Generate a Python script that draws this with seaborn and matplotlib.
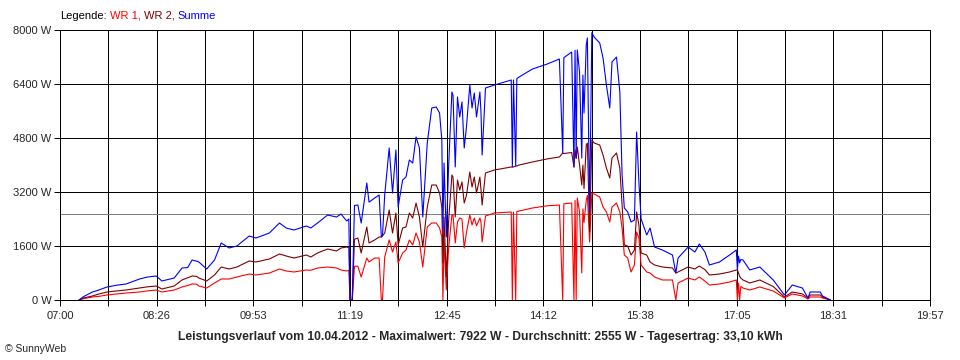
import numpy as np
import pandas as pd
import matplotlib
matplotlib.use("Agg")
import matplotlib.pyplot as plt
import seaborn as sns

# Leistungsverlauf 10.04.2012 (Watt)
zeit = [
    "07:17", "07:21", "07:29", "07:35", "07:42", "07:51", "07:59", "08:11", "08:18", "08:26",
    "08:31", "08:42", "08:49", "08:54", "08:58", "09:02", "09:04", "09:11", "09:18", "09:24",
    "09:31", "09:38", "09:49", "09:55", "10:07", "10:16", "10:22", "10:29", "10:40", "10:44",
    "10:50", "10:59", "11:07", "11:11", "11:16", "11:18", "11:19", "11:21", "11:23", "11:26",
    "11:29", "11:34", "11:36", "11:41", "11:45", "11:47", "11:48", "11:50", "11:54", "11:57",
    "12:00", "12:02", "12:06", "12:09", "12:12", "12:15", "12:18", "12:21", "12:24", "12:28",
    "12:32", "12:36", "12:39", "12:41", "12:42", "12:43", "12:45", "12:47", "12:50", "12:51",
    "12:53", "12:55", "12:57", "12:59", "13:01", "13:03", "13:06", "13:08", "13:10", "13:12",
    "13:15", "13:16", "13:17", "13:20", "13:28", "13:43", "13:44", "13:45", "13:47", "13:48",
    "13:50", "14:02", "14:15", "14:26", "14:29", "14:30", "14:37", "14:39", "14:40", "14:41",
    "14:42", "14:44", "14:46", "14:47", "14:48", "14:50", "14:51", "14:53", "14:55", "14:57",
    "15:02", "15:05", "15:08", "15:11", "15:13", "15:17", "15:20", "15:22", "15:24", "15:27",
    "15:30", "15:33", "15:35", "15:37", "15:39", "15:44", "15:47", "15:51", "15:58", "16:07",
    "16:10", "16:12", "16:21", "16:27", "16:31", "16:36", "16:40", "16:49", "16:58", "17:04",
    "17:05", "17:06", "17:07", "17:08", "17:10", "17:16", "17:25", "17:37", "17:47", "17:54",
    "18:03", "18:08", "18:10", "18:19", "18:21", "18:28",
]

wr1 = [
    0, 40, 89, 110, 148, 180, 207, 237, 270, 296,
    237, 296, 385, 430, 474, 470, 415, 355, 504, 622,
    622, 681, 770, 741, 800, 918, 859, 830, 889, 880,
    948, 978, 948, 889, 859, 880, 0, 0, 1000, 1000,
    681, 1244, 1126, 1244, 1244, 0, 0, 1274, 1778, 1422,
    1718, 1096, 1393, 1481, 1778, 1630, 1985, 1718, 978, 2163,
    2281, 2281, 2133, 1867, 0, 1778, 300, 1500, 2519, 2519,
    1689, 2311, 2430, 2400, 1541, 2000, 2519, 2222, 2430, 2200,
    2430, 2300, 1718, 2489, 2578, 2607, 0, 2607, 0, 2620,
    2637, 2726, 2790, 2815, 0, 2850, 2874, 0, 2950, 0,
    3022, 2607, 800, 2700, 2300, 2963, 3100, 1718, 3170, 3141,
    3052, 2755, 2607, 2311, 2755, 2874, 2607, 2133, 1333, 1244,
    830, 1037, 2015, 1837, 1037, 830, 800, 681, 593, 593,
    0, 504, 652, 593, 681, 560, 444, 474, 533, 593,
    0, 500, 0, 400, 355, 296, 385, 267, 60, 178,
    120, 30, 89, 89, 60, 0,
]

wr2 = [
    0, 60, 119, 180, 237, 270, 296, 355, 390, 415,
    326, 415, 593, 660, 711, 700, 652, 563, 741, 978,
    918, 978, 1155, 1126, 1215, 1363, 1304, 1244, 1333, 1274,
    1393, 1511, 1452, 1541, 1570, 1550, 0, 0, 1800, 1837,
    1393, 2163, 1689, 1778, 1867, 1867, 1900, 1985, 2667, 1985,
    2578, 1630, 2133, 2163, 2578, 2430, 2874, 2459, 1570, 2755,
    3407, 3407, 3170, 2755, 1096, 2459, 681, 2300, 3704, 3644,
    2459, 3556, 3259, 3500, 2874, 3100, 3793, 3348, 3644, 3170,
    3644, 3259, 2815, 3763, 3852, 3941, 3941, 3941, 3970, 3970,
    4000, 4089, 4180, 4237, 4356, 4340, 4370, 3941, 4450, 4200,
    4533, 4000, 3407, 4000, 3300, 4593, 4650, 2015, 4741, 4652,
    4593, 4296, 3911, 3615, 4207, 4356, 3911, 2815, 1630, 1600,
    1333, 1481, 2607, 2222, 1393, 1333, 1126, 1037, 978, 948,
    800, 830, 978, 918, 1007, 900, 741, 770, 830, 889,
    889, 800, 700, 650, 593, 504, 593, 400, 90, 237,
    180, 60, 148, 148, 89, 0,
]

summe = [
    0, 100, 237, 300, 385, 440, 474, 622, 680, 711,
    563, 652, 948, 960, 1185, 1150, 1126, 918, 1185, 1689,
    1541, 1600, 1896, 1837, 1985, 2281, 2133, 2074, 2193, 2133,
    2281, 2518, 2459, 2548, 2341, 2400, 0, 0, 2800, 2815,
    2281, 3467, 2900, 3022, 3111, 1867, 1900, 3111, 4504, 3170,
    4444, 2755, 3556, 3644, 4148, 4059, 4830, 4504, 2459, 4652,
    5689, 5719, 5541, 4741, 2074, 4059, 1867, 3900, 6163, 6074,
    3941, 6015, 5422, 5867, 4504, 5126, 6370, 5689, 6133, 5422,
    6163, 5541, 4296, 6281, 6370, 6518, 3941, 6518, 3970, 6560,
    6607, 6844, 6990, 7141, 4356, 7180, 7348, 3941, 7400, 4200,
    7407, 6756, 4207, 6667, 5541, 7556, 7763, 2607, 7922, 7793,
    7615, 7170, 6370, 5689, 7052, 7200, 6163, 3704, 2726, 2607,
    2311, 2370, 4978, 3496, 2400, 1926, 2133, 1570, 1481, 1333,
    800, 1244, 1570, 1422, 1659, 1422, 1037, 1126, 1333, 1481,
    900, 1300, 1100, 1200, 1185, 889, 978, 593, 148, 444,
    355, 60, 237, 237, 119, 0,
]

durchschnitt = 2555
y_ticks = [0, 1600, 3200, 4800, 6400, 8000]
x_labels = ["07:00", "08:26", "09:53", "11:19", "12:45",
            "14:12", "15:38", "17:05", "18:31", "19:57"]

assert len(zeit) == len(wr1) == len(wr2) == len(summe)

df = pd.DataFrame({"zeit": zeit, "WR 1": wr1, "WR 2": wr2, "Summe": summe})
df["min"] = pd.to_timedelta(df["zeit"] + ":00").dt.total_seconds() / 60

sns.set_style("white")
plt.rcParams["font.family"] = ["Liberation Sans", "DejaVu Sans"]

LW = 0.7  # ~1 Pixel bei 100 dpi

fig = plt.figure(figsize=(9.6, 3.6), dpi=100)
ax = fig.add_axes([60 / 960, 60 / 360, 870 / 960, 270 / 360])

t_start = pd.to_timedelta(x_labels[0] + ":00").total_seconds() / 60
t_end = pd.to_timedelta(x_labels[-1] + ":00").total_seconds() / 60
grid_pos = np.linspace(t_start, t_end, 2 * len(x_labels) - 1)
grid_lab = []
for i in range(len(grid_pos)):
    grid_lab.append(x_labels[i // 2] if i % 2 == 0 else "")

ax.set_xlim(t_start, t_end)
ax.set_ylim(0, 8000)
ax.set_xticks(grid_pos)
ax.set_xticklabels(grid_lab)
ax.set_yticks(y_ticks)
ax.set_yticklabels([f"{v} W" for v in y_ticks])
ax.grid(True, color="black", lw=LW, antialiased=False)
ax.set_axisbelow(True)
for sp in ax.spines.values():
    sp.set_color("black")
    sp.set_linewidth(LW)
    sp.set_antialiased(False)
ax.tick_params(axis="both", which="major", bottom=True, left=True, length=4,
               width=LW, color="black", direction="out", labelsize=8, pad=2)
ax.tick_params(axis="x", pad=4)

ax.axhline(durchschnitt, color="#808080", lw=LW, zorder=1.5, antialiased=False)

for col, c in [("WR 1", "#ff0000"), ("WR 2", "#800000"), ("Summe", "#0000ff")]:
    sns.lineplot(data=df, x="min", y=col, color=c, lw=0.8, ax=ax,
                 estimator=None, legend=False, zorder=3)
ax.set_xlabel("")
ax.set_ylabel("")

# Legende oben links
t0 = fig.text(60 / 960, 1 - 16 / 360, "Legende:", color="black", fontsize=8, va="center")
prev = t0
for txt, c in [("WR 1,", "#ff0000"), ("WR 2,", "#800000"), ("Summe", "#0000ff")]:
    prev = ax.annotate(txt, xy=(1, 0), xycoords=prev, xytext=(3, 0),
                       textcoords="offset pixels", va="bottom", ha="left",
                       color=c, fontsize=8)

fig.text(0.5, 1 - 337 / 360,
         "Leistungsverlauf vom 10.04.2012 - Maximalwert: 7922 W - Durchschnitt: 2555 W - Tagesertrag: 33,10 kWh",
         ha="center", va="center", fontsize=8.7, fontweight="bold")
fig.text(5 / 960, 1 - 349 / 360, "© SunnyWeb", ha="left", va="center", fontsize=7.5)

fig.savefig("out.png", dpi=100, facecolor="white")
